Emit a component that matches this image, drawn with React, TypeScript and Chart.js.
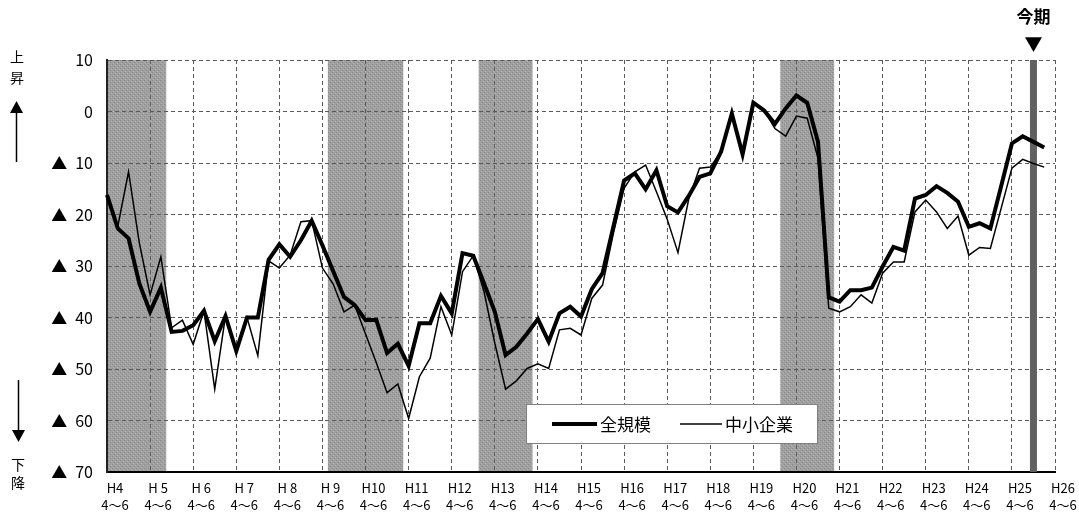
import React, { useEffect, useRef } from 'react';
import { Chart, registerables } from 'chart.js';

Chart.register(...registerables);

const FONT = "'Noto Sans CJK JP', 'Noto Sans', sans-serif";

// Year labels (Heisei) and quarter names
const yearLabels = ['H4', 'H 5', 'H 6', 'H 7', 'H 8', 'H 9', 'H10', 'H11', 'H12', 'H13', 'H14', 'H15', 'H16', 'H17', 'H18', 'H19', 'H20', 'H21', 'H22', 'H23', 'H24', 'H25', 'H26'];
const quarterLabels = ['4～6', '7～9', '10～12', '1～3'];

// 全規模 (all sizes), H4 4-6 .. H26 1-3
const allSizes = [
  -16.2, -22.7, -24.6, -33.4, -38.9, -34.2, -42.8, -42.6, -41.5, -38.7,
  -44.6, -39.7, -46.5, -40.0, -40.0, -28.8, -25.8, -28.2, -25.0, -21.2,
  -26.0, -31.0, -36.0, -37.6, -40.5, -40.5, -46.9, -45.1, -49.4, -41.1,
  -41.1, -35.8, -39.2, -27.5, -28.0, -33.4, -38.9, -47.3, -45.7, -43.1,
  -40.3, -44.7, -39.2, -37.9, -39.8, -34.5, -31.4, -22.4, -13.4, -12.0,
  -15.1, -11.4, -18.4, -19.6, -16.4, -12.7, -12.0, -7.8, -0.4, -8.3,
  1.7, 0.2, -2.4, 0.6, 3.1, 1.7, -5.9, -36.1, -36.9, -34.7,
  -34.7, -34.2, -30.1, -26.3, -27.0, -16.9, -16.2, -14.5, -15.8, -17.5,
  -22.4, -21.7, -22.7, -14.5, -6.2, -4.8, -5.9, -7.0,
];

// 中小企業 (small and medium enterprises)
const smallMedium = [
  -16.5, -22.3, -11.7, -25.5, -35.6, -28.2, -42.0, -40.5, -45.2, -38.7,
  -53.9, -39.7, -46.5, -40.0, -47.4, -29.0, -30.4, -27.9, -21.4, -21.2,
  -30.4, -33.5, -38.9, -37.6, -43.2, -48.8, -54.6, -52.9, -59.6, -51.5,
  -47.9, -37.9, -43.4, -31.1, -28.0, -35.0, -45.0, -53.9, -52.3, -49.9,
  -49.0, -49.9, -42.4, -42.1, -43.4, -36.3, -33.7, -23.7, -14.9, -11.7,
  -10.4, -15.6, -20.9, -27.4, -17.0, -11.0, -10.8, -7.8, -0.4, -8.3,
  1.7, 0.2, -3.3, -4.8, -0.9, -1.3, -9.1, -38.2, -38.9, -37.9,
  -35.6, -37.2, -31.4, -29.2, -29.2, -19.5, -17.2, -19.5, -22.7, -20.3,
  -27.9, -26.4, -26.6, -18.8, -11.0, -9.3, -10.1, -10.8,
];

// Recession periods (category index ranges, inclusive)
const recessionStart = [0, 21, 35, 63];
const recessionEnd = [5, 27, 39, 67];
// Current period marker (今期)
const currentIndex = 86;

const yMin = -70;
const yMax = 10;
const yStep = 10;

const categories: string[][] = [];
yearLabels.forEach((y, yi) => {
  quarterLabels.forEach((q, qi) => {
    if (yi < yearLabels.length - 1 || qi === 0) categories.push([y, q]);
  });
});

function makePattern(ctx: CanvasRenderingContext2D) {
  const c = document.createElement('canvas');
  c.width = 4;
  c.height = 4;
  const g = c.getContext('2d')!;
  g.fillStyle = '#a0a0a0';
  g.fillRect(0, 0, 4, 4);
  g.fillStyle = '#8a8a8a';
  g.fillRect(0, 0, 1, 1);
  g.fillRect(2, 2, 1, 1);
  g.fillStyle = '#b2b2b2';
  g.fillRect(1, 3, 1, 1);
  g.fillRect(3, 1, 1, 1);
  return ctx.createPattern(c, 'repeat') || '#a0a0a0';
}

const bandsPlugin = {
  id: 'bands',
  beforeDraw(chart: any) {
    const { ctx, chartArea, scales } = chart;
    const x = scales.x;
    ctx.save();
    ctx.beginPath();
    ctx.rect(chartArea.left, chartArea.top, chartArea.right - chartArea.left, chartArea.bottom - chartArea.top);
    ctx.clip();
    ctx.fillStyle = makePattern(ctx);
    recessionStart.forEach((s, i) => {
      const x0 = x.getPixelForValue(s - 0.5);
      const x1 = x.getPixelForValue(recessionEnd[i] + 0.5);
      ctx.fillRect(x0, chartArea.top, x1 - x0, chartArea.bottom - chartArea.top);
    });
    ctx.restore();
  },
  beforeDatasetsDraw(chart: any) {
    const { ctx, chartArea, scales } = chart;
    const cx = scales.x.getPixelForValue(currentIndex);
    ctx.save();
    ctx.fillStyle = '#606060';
    ctx.fillRect(cx - 3.5, chartArea.top, 7, chartArea.bottom - chartArea.top);
    ctx.restore();
  },
};

const overlayPlugin = {
  id: 'overlay',
  afterDraw(chart: any) {
    const { ctx, scales } = chart;
    const cx = scales.x.getPixelForValue(currentIndex);
    ctx.save();
    ctx.fillStyle = '#000';
    ctx.strokeStyle = '#000';
    ctx.textAlign = 'center';
    ctx.textBaseline = 'middle';
    // 今期 marker
    ctx.font = `bold 17px ${FONT}`;
    ctx.fillText('今期', cx, 17);
    ctx.font = `18px ${FONT}`;
    ctx.fillText('▼', cx, 44);

    // left side labels
    ctx.font = `14px ${FONT}`;
    ctx.fillText('上', 17, 57);
    ctx.fillText('昇', 17, 78);
    ctx.fillText('下', 18, 465);
    ctx.fillText('降', 18, 483);
    // up arrow
    ctx.lineWidth = 1.5;
    ctx.beginPath();
    ctx.moveTo(16.5, 112);
    ctx.lineTo(16.5, 162);
    ctx.stroke();
    ctx.beginPath();
    ctx.moveTo(16.5, 101);
    ctx.lineTo(10, 113);
    ctx.lineTo(23, 113);
    ctx.closePath();
    ctx.fill();
    // down arrow
    ctx.beginPath();
    ctx.moveTo(18.5, 380);
    ctx.lineTo(18.5, 431);
    ctx.stroke();
    ctx.beginPath();
    ctx.moveTo(18.5, 442);
    ctx.lineTo(12, 430);
    ctx.lineTo(25, 430);
    ctx.closePath();
    ctx.fill();

    // legend box
    ctx.fillStyle = '#fff';
    ctx.fillRect(526, 404, 292, 40);
    ctx.strokeStyle = '#808080';
    ctx.lineWidth = 1;
    ctx.strokeRect(526.5, 404.5, 291, 39);
    ctx.strokeStyle = '#000';
    ctx.lineWidth = 4;
    ctx.beginPath();
    ctx.moveTo(552, 424);
    ctx.lineTo(597, 424);
    ctx.stroke();
    ctx.lineWidth = 1.5;
    ctx.beginPath();
    ctx.moveTo(680, 424);
    ctx.lineTo(722, 424);
    ctx.stroke();
    ctx.fillStyle = '#000';
    ctx.textAlign = 'left';
    ctx.font = `17px ${FONT}`;
    ctx.fillText(chart.data.datasets[0].label, 600, 425);
    ctx.fillText(chart.data.datasets[1].label, 725, 425);
    ctx.restore();
  },
};

export default function App() {
  const ref = useRef<HTMLCanvasElement>(null);
  useEffect(() => {
    const canvas = ref.current!;
    const chart = new Chart(canvas, {
      type: 'line',
      data: {
        labels: categories as any,
        datasets: [
          {
            label: '全規模',
            data: allSizes,
            borderColor: '#000',
            borderWidth: 4,
            pointRadius: 0,
            tension: 0,
            fill: false,
          },
          {
            label: '中小企業',
            data: smallMedium,
            borderColor: '#000',
            borderWidth: 1.5,
            pointRadius: 0,
            tension: 0,
            fill: false,
          },
        ],
      },
      options: {
        responsive: false,
        animation: false,
        devicePixelRatio: 1,
        layout: { padding: { left: 0, right: 24, top: 60, bottom: 0 } },
        plugins: { legend: { display: false }, tooltip: { enabled: false } },
        scales: {
          x: {
            type: 'category',
            offset: false,
            grid: {
              drawTicks: false,
              color: '#5a5a5a',
              lineWidth: (c: any) => (c.index % 4 === 0 ? 1 : 0),
            },
            border: { display: true, color: '#000', width: 2, dash: [4, 3] },
            ticks: {
              autoSkip: false,
              maxRotation: 0,
              minRotation: 0,
              padding: 8,
              labelOffset: 8,
              color: '#000',
              font: { family: FONT, size: 13, lineHeight: 1.3 },
              callback: (_v: any, i: number) => (i % 4 === 0 ? categories[i] : ''),
            },
            afterFit: (s: any) => {
              s.height = 40;
            },
          },
          y: {
            min: yMin,
            max: yMax,
            grid: { drawTicks: false, color: '#5a5a5a', lineWidth: 1 },
            border: { display: true, color: '#222', width: 2, dash: [4, 3] },
            ticks: {
              stepSize: yStep,
              padding: 14,
              color: '#000',
              font: { family: FONT, size: 16 },
              callback: (v: any) => (v > 0 ? String(v) : v === 0 ? '0' : '▲\u2002' + -v),
            },
            afterFit: (s: any) => {
              s.width = 107;
            },
          },
        },
      },
      plugins: [bandsPlugin, overlayPlugin],
    });
    return () => chart.destroy();
  }, []);
  return (
    <div style={{ position: 'fixed', left: 0, top: 0, width: 1079, height: 512, background: '#fff' }}>
      <canvas ref={ref} width={1079} height={512} style={{ display: 'block', width: 1079, height: 512 }} />
    </div>
  );
}
